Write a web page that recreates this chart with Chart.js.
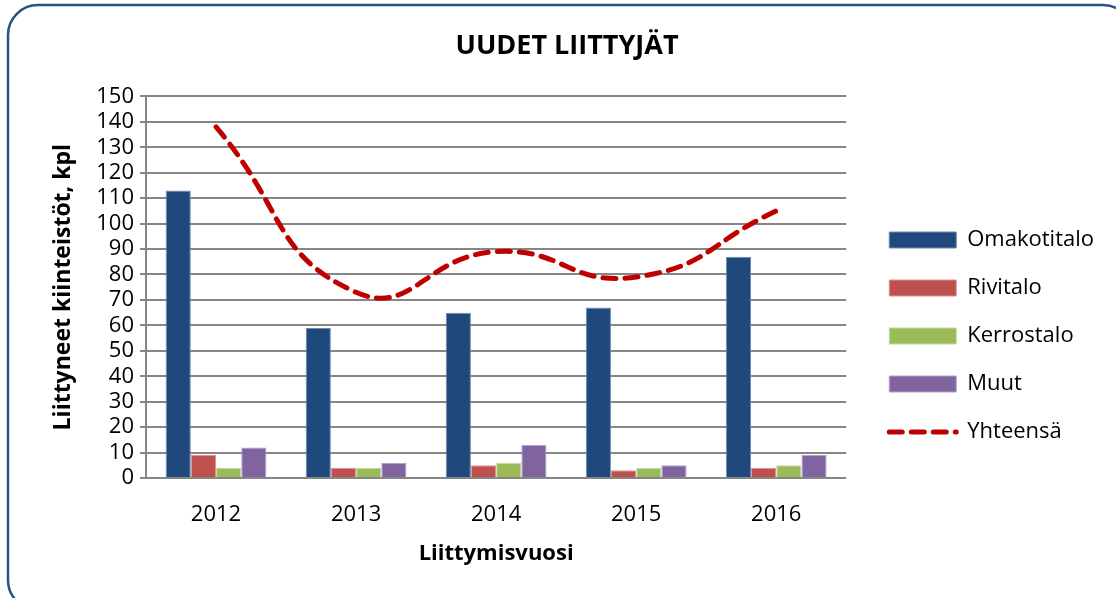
<!DOCTYPE html>
<html>
<head>
<meta charset="utf-8">
<script src="https://cdn.jsdelivr.net/npm/chart.js@4.4.1/dist/chart.umd.min.js"></script>
<style>
  html, body { margin: 0; padding: 0; background: #fff; }
  #wrap { width: 1116px; height: 598px; }
</style>
</head>
<body>
<div id="wrap"><canvas id="myChart" width="1116" height="598"></canvas></div>
<script>
const years = ['2012', '2013', '2014', '2015', '2016'];
const omakotitalo = [113, 59, 65, 67, 87];
const rivitalo = [9, 4, 5, 3, 4];
const kerrostalo = [4, 4, 6, 4, 5];
const muut = [12, 6, 13, 5, 9];
const yhteensa = [138, 73, 89, 79, 105];

const font = "'Open Sans', 'Liberation Sans', sans-serif";
const gridColor = '#868686';
const totalDash = [13, 9];

// rounded frame round the whole chart
const framePlugin = {
    id: 'frame',
    beforeDraw(chart) {
        const ctx = chart.ctx;
        ctx.save();
        ctx.fillStyle = '#fff';
        ctx.fillRect(0, 0, chart.width, chart.height);
        ctx.strokeStyle = '#2B5285';
        ctx.lineWidth = 2.5;
        ctx.beginPath();
        ctx.roundRect(8, 5, 1125, 605, 30);
        ctx.stroke();
        ctx.restore();
    }
};

// push the legend a bit away from the plot
const legendShift = {
    id: 'legendShift',
    afterLayout(chart) {
        chart.legend.left += 17;
        chart.legend.right += 17;
    }
};

function barSet(label, data, color, edge) {
    return {
        type: 'bar',
        label: label,
        data: data,
        backgroundColor: color,
        borderColor: edge,
        borderWidth: 1,
        pointStyle: 'rect'
    };
}

const baseLabels = Chart.defaults.plugins.legend.labels.generateLabels;

const ctx = document.getElementById('myChart').getContext('2d');
const chart = new Chart(ctx, {
    data: {
        labels: years,
        datasets: [
            barSet('Omakotitalo', omakotitalo, '#1F497D', '#6F8BB0'),
            barSet('Rivitalo', rivitalo, '#C0504D', '#D89896'),
            barSet('Kerrostalo', kerrostalo, '#9BBB59', '#C5D8A0'),
            barSet('Muut', muut, '#8064A2', '#B3A2C8'),
            {
                type: 'line',
                label: 'Yhteensä',
                data: yhteensa,
                borderColor: '#C00000',
                backgroundColor: '#C00000',
                borderWidth: 5,
                borderDash: totalDash,
                borderCapStyle: 'round',
                tension: 0.5,
                pointRadius: 0,
                fill: false,
                pointStyle: 'line'
            }
        ]
    },
    options: {
        responsive: false,
        animation: false,
        layout: {
            padding: { left: 47, top: 0, right: 29, bottom: 0 }
        },
        datasets: {
            bar: {
                barPercentage: 1,
                categoryPercentage: 0.72
            }
        },
        plugins: {
            title: {
                display: true,
                text: 'UUDET LIITTYJÄT',
                color: '#000',
                font: { family: font, size: 27, weight: 'bold' },
                padding: { top: 30, bottom: 34 }
            },
            legend: {
                position: 'right',
                title: { display: true, text: '', padding: { top: 50, bottom: 0 }, font: { size: 20 } },
                labels: {
                    usePointStyle: true,
                    pointStyleWidth: 67,
                    boxHeight: 16,
                    padding: 26,
                    color: '#000',
                    font: { family: font, size: 22 },
                    generateLabels(chart) {
                        // the line item keeps its dashes in the legend
                        return baseLabels(chart).map(item => {
                            if (item.text === 'Yhteensä') {
                                item.lineDash = totalDash;
                                item.lineWidth = 5;
                                item.lineCap = 'round';
                                item.strokeStyle = '#C00000';
                            }
                            return item;
                        });
                    }
                }
            },
            tooltip: { enabled: false }
        },
        scales: {
            x: {
                grid: { display: false },
                border: { display: false },
                ticks: {
                    color: '#000',
                    padding: 16,
                    font: { family: font, size: 22 }
                },
                title: {
                    display: true,
                    text: 'Liittymisvuosi',
                    color: '#000',
                    font: { family: font, size: 22, weight: 'bold' },
                    padding: { top: 0, bottom: 31 }
                },
                afterFit: (scale) => { scale.height = 120; }
            },
            y: {
                min: 0,
                max: 150,
                ticks: {
                    stepSize: 10,
                    autoSkip: false,
                    color: '#000',
                    padding: 6,
                    font: { family: font, size: 22 }
                },
                grid: {
                    color: gridColor,
                    lineWidth: 2,
                    tickLength: 6
                },
                border: { color: gridColor, width: 2 },
                title: {
                    display: true,
                    text: 'Liittyneet kiinteistöt, kpl',
                    color: '#000',
                    font: { family: font, size: 23, weight: 'bold' },
                    padding: { top: 3, bottom: 0 }
                },
                afterFit: (scale) => { scale.width = 99; }
            }
        }
    },
    plugins: [framePlugin, legendShift]
});
</script>
</body>
</html>
